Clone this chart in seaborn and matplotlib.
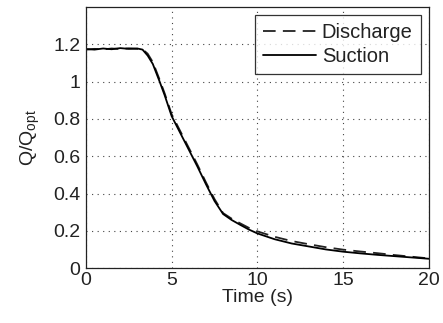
import numpy as np
import pandas as pd
import matplotlib
matplotlib.use('Agg')
import matplotlib.pyplot as plt
import seaborn as sns

# values
time_s = [0, 0.5, 1, 1.5, 2, 2.5, 3, 3.3, 3.6, 3.9, 4.3, 4.6, 5, 5.5, 6, 6.5, 7, 7.5, 8,
          8.5, 9, 9.5, 10, 11, 12, 13, 14, 15, 16, 17, 18, 19, 20]
suction = [1.175, 1.172, 1.178, 1.174, 1.18, 1.176, 1.178, 1.172, 1.14, 1.095, 1.0, 0.925,
           0.815, 0.725, 0.635, 0.545, 0.45, 0.36, 0.29, 0.258, 0.232, 0.207, 0.186, 0.155,
           0.132, 0.116, 0.1, 0.088, 0.079, 0.071, 0.064, 0.057, 0.05]
discharge = [1.172, 1.176, 1.173, 1.178, 1.175, 1.179, 1.176, 1.174, 1.15, 1.105, 1.01, 0.935,
             0.825, 0.735, 0.645, 0.555, 0.46, 0.37, 0.295, 0.265, 0.24, 0.216, 0.197, 0.168,
             0.145, 0.128, 0.112, 0.099, 0.089, 0.08, 0.07, 0.061, 0.052]

df = pd.DataFrame({'Time': time_s, 'Discharge': discharge, 'Suction': suction})

sns.set_style('white')
plt.rcParams['font.family'] = ['Liberation Sans', 'DejaVu Sans']
plt.rcParams['mathtext.fontset'] = 'custom'
plt.rcParams['mathtext.rm'] = 'Liberation Sans'

fig, ax = plt.subplots(figsize=(4.43, 3.23), dpi=100)
fig.subplots_adjust(left=0.194, right=0.968, top=0.978, bottom=0.170)

sns.lineplot(data=df, x='Time', y='Discharge', ax=ax, color='#222222', lw=1.3,
             linestyle=(0, (7, 4)), label='Discharge')
sns.lineplot(data=df, x='Time', y='Suction', ax=ax, color='black', lw=1.3,
             label='Suction')

ax.set_xlim(0, 20)
ax.set_ylim(0, 1.4)
ax.set_xticks([0, 5, 10, 15, 20])
ax.set_yticks([0, 0.2, 0.4, 0.6, 0.8, 1, 1.2])
ax.set_yticklabels(['0', '0.2', '0.4', '0.6', '0.8', '1', '1.2'])
ax.tick_params(labelsize=14, direction='in', length=4, colors='#222222',
               labelcolor='#222222')
ax.tick_params(axis='x', pad=3)
ax.tick_params(axis='y', pad=4)
ax.grid(True, linestyle=(0, (1, 4)), color='#444444', lw=0.8)
for sp in ax.spines.values():
    sp.set_color('#222222')
    sp.set_linewidth(0.9)
ax.set_xlabel('Time (s)', fontsize=14, labelpad=0, color='#222222')
ax.set_ylabel(r'Q/Q$_{\mathrm{opt}}$', fontsize=14, labelpad=8, color='#222222')

leg = ax.legend(loc='upper right', fontsize=14.5, frameon=True, fancybox=False,
                handlelength=2.6, handletextpad=0.3, borderpad=0.4,
                labelspacing=0.22, borderaxespad=0.4)
leg.get_frame().set_edgecolor('black')
leg.get_frame().set_linewidth(0.9)
for t in leg.get_texts():
    t.set_color('#222222')

plt.savefig('out.png', dpi=100)
